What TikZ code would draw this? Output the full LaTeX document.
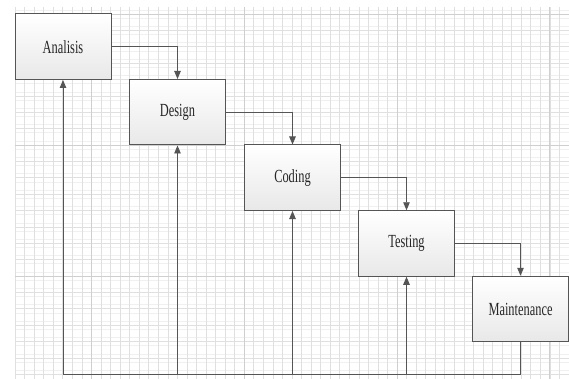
\documentclass[tikz,border=0pt]{standalone}
\usepackage{fontspec}
\setmainfont{Liberation Serif}
\usetikzlibrary{arrows.meta}
\definecolor{faintgrid}{HTML}{F0F0F0}
\definecolor{minorgrid}{HTML}{E0E0E0}
\definecolor{majorgrid}{HTML}{CFCFCF}
\definecolor{edge}{HTML}{555555}
\definecolor{txt}{HTML}{262626}
\newcommand\phaselbl[1]{\scalebox{0.67}[1]{\fontsize{18.5}{20}\selectfont #1}}
\begin{document}
\begin{tikzpicture}[x=1pt,y=-1pt,
  phase/.style={draw=edge, line width=1pt, top color=white, bottom color=black!9,
    minimum width=96pt, minimum height=65.5pt, inner sep=0pt, text=txt},
  flow/.style={draw=edge, line width=0.9pt, -{Triangle[length=8pt,width=6.5pt]}},
  link/.style={draw=edge, line width=0.9pt},
  faintline/.style={draw=faintgrid, line width=0.5pt},
  minorline/.style={draw=minorgrid, line width=0.6pt},
  majorline/.style={draw=majorgrid, line width=0.7pt}]
\useasboundingbox[fill=white] (0,0) rectangle (569,379);
% grid
\foreach \j in {0,...,44} {\draw[faintline] (15,{9.9+\j*8.1875}) -- (569,{9.9+\j*8.1875});}
\foreach \i in {0,...,57} {\draw[minorline] ({15+\i*9.55},7) -- ({15+\i*9.55},379);}
\foreach \j in {0,...,22} {\draw[minorline] (15,{14+\j*16.375}) -- (569,{14+\j*16.375});}
\foreach \i in {0,...,3} {\draw[majorline] ({15+8*9.55+\i*152.8},7) -- ({15+8*9.55+\i*152.8},379);}
\foreach \j in {0,...,3} {\draw[majorline] (15,{14+\j*131}) -- (569,{14+\j*131});}
% phases
\node[phase] (ana) at (63,46.75) {\phaselbl{Analisis}};
\node[phase] (des) at (177.5,112.25) {\phaselbl{Design}};
\node[phase] (cod) at (292.5,177.75) {\phaselbl{Coding}};
\node[phase] (tes) at (406.5,243.5) {\phaselbl{Testing}};
\node[phase] (mai) at (520.5,309) {\phaselbl{Maintenance}};
% forward flow
\draw[flow] (ana.east) -| (des.north);
\draw[flow] (des.east) -| (cod.north);
\draw[flow] (cod.east) -| (tes.north);
\draw[flow] (tes.east) -| (mai.north);
% feedback
\coordinate (base) at (0,374);
\draw[link] (mai.south) -- (mai.south |- base) -- (ana.south |- base);
\draw[flow] (ana.south |- base) -- (ana.south);
\draw[flow] (des.south |- base) -- (des.south);
\draw[flow] (cod.south |- base) -- (cod.south);
\draw[flow] (tes.south |- base) -- (tes.south);
\end{tikzpicture}
\end{document}
